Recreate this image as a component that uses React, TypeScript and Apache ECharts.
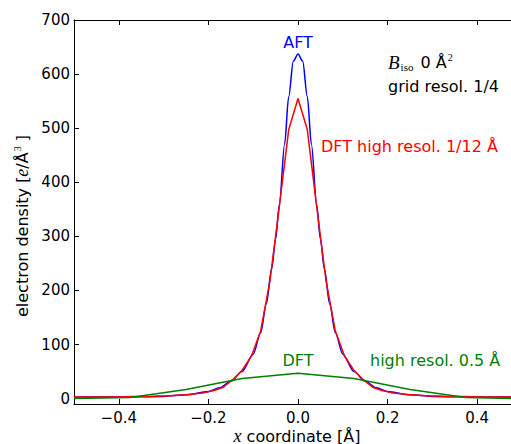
import React, { useEffect, useRef } from "react";
import * as echarts from "echarts";

// AFT (analytic) profile
const aftX = [-0.5, -0.4, -0.3, -0.25, -0.2, -0.175, -0.15, -0.125, -0.1, -0.0833, -0.0708, -0.0588, -0.05, -0.0417, -0.03, -0.0208, -0.0104, 0,
  0.0104, 0.0208, 0.03, 0.0417, 0.05, 0.0588, 0.0708, 0.0833, 0.1, 0.125, 0.15, 0.175, 0.2, 0.25, 0.3, 0.4, 0.5];
const aftY = [3, 3, 4, 7, 13, 20, 32, 50, 82, 122, 175, 240, 295, 358, 470, 558, 624, 637,
  624, 558, 470, 358, 295, 240, 175, 122, 82, 50, 32, 20, 13, 7, 4, 3, 3];

// DFT high resolution 1/12 Å, grid 1/48 Å
const dftHiX = [-0.5, -0.4792, -0.4583, -0.4375, -0.4167, -0.3958, -0.375, -0.3542, -0.3333, -0.3125, -0.2917, -0.2708, -0.25,
  -0.2292, -0.2083, -0.1875, -0.1667, -0.1458, -0.125, -0.1042, -0.0833, -0.0625, -0.0417, -0.0208, 0,
  0.0208, 0.0417, 0.0625, 0.0833, 0.1042, 0.125, 0.1458, 0.1667, 0.1875, 0.2083, 0.2292,
  0.25, 0.2708, 0.2917, 0.3125, 0.3333, 0.3542, 0.375, 0.3958, 0.4167, 0.4375, 0.4583, 0.4792, 0.5];
const dftHiY = [3, 3, 3, 3, 3, 3, 4, 4, 4, 5, 5, 6, 7,
  9, 11, 15, 21, 35, 52, 78, 125, 218, 355, 497, 555,
  497, 355, 218, 125, 78, 52, 35, 21, 15, 11, 9,
  7, 6, 5, 5, 4, 4, 4, 3, 3, 3, 3, 3, 3];

// DFT resolution 0.5 Å, grid 0.125 Å
const dftLoX = [-0.5, -0.375, -0.25, -0.125, 0, 0.125, 0.25, 0.375, 0.5];
const dftLoY = [0, 2, 17, 37, 47, 37, 17, 2, 0];

const xTicks = [-0.4, -0.2, 0, 0.2, 0.4];
const yTicks = [0, 100, 200, 300, 400, 500, 600, 700];

const FONT = "DejaVu Sans";
const SERIF = "Liberation Serif";

function pairs(xs: number[], ys: number[]) {
  return xs.map((x, i) => [x, ys[i]]);
}

function fmtX(v: number) {
  const a = Math.abs(v).toFixed(1);
  return v < -1e-9 ? "\u2212" + a : a;
}

export default function App() {
  const ref = useRef<HTMLDivElement>(null);
  useEffect(() => {
    if (!ref.current) return;
    const chart = echarts.init(ref.current, null, { renderer: "svg" });
    const axisLine = { show: true, onZero: false, lineStyle: { color: "#000", width: 1 } };
    const tick = (vals: number[]) => ({ show: true, inside: true, length: 5, customValues: vals, lineStyle: { color: "#000", width: 1 } });
    chart.setOption({
      animation: false,
      backgroundColor: "#fff",
      grid: { left: 74, top: 20, bottom: 40, right: -11, containLabel: false, outerBoundsMode: "none" },
      xAxis: [
        {
          type: "value", position: "bottom", min: -0.5, max: 0.5,
          axisLine, axisTick: tick(xTicks), splitLine: { show: false },
          axisLabel: { show: true, customValues: xTicks, formatter: fmtX, margin: 6, color: "#000", fontFamily: FONT, fontSize: 15 },
        },
        {
          type: "value", position: "top", min: -0.5, max: 0.5,
          axisLine, axisTick: tick(xTicks), splitLine: { show: false }, axisLabel: { show: false },
        },
      ],
      yAxis: [
        {
          type: "value", position: "left", min: -10, max: 700,
          axisLine, axisTick: tick(yTicks), splitLine: { show: false },
          axisLabel: { show: true, customValues: yTicks, margin: 4, color: "#000", fontFamily: FONT, fontSize: 15 },
        },
        {
          type: "value", position: "right", min: -10, max: 700,
          axisLine, axisTick: tick(yTicks), splitLine: { show: false }, axisLabel: { show: false },
        },
      ],
      series: [
        {
          type: "line", name: "AFT", data: pairs(aftX, aftY), xAxisIndex: 0, yAxisIndex: 0,
          showSymbol: false, smooth: 0.3, smoothMonotone: "x",
          lineStyle: { color: "#0000ff", width: 1.5 }, itemStyle: { color: "#0000ff" },
        },
        {
          type: "line", name: "DFT 1/12", data: pairs(dftHiX, dftHiY), xAxisIndex: 0, yAxisIndex: 0,
          showSymbol: false, lineStyle: { color: "#ff0000", width: 1.5 }, itemStyle: { color: "#ff0000" },
        },
        {
          type: "line", name: "DFT 0.5", data: pairs(dftLoX, dftLoY), xAxisIndex: 0, yAxisIndex: 0,
          showSymbol: false, lineStyle: { color: "#008000", width: 1.5 }, itemStyle: { color: "#008000" },
        },
      ],
      graphic: [
        { type: "text", x: 298, y: 42, style: { text: "AFT", fill: "#0000ff", fontFamily: FONT, fontSize: 16, align: "center", verticalAlign: "middle" } },
        {
          type: "text", x: 388, y: 62,
          style: {
            text: "{b|B}{sub|iso}{n| 0 Å}{sup|2}", align: "left", verticalAlign: "middle",
            rich: {
              b: { fontFamily: SERIF, fontStyle: "italic", fontSize: 19, fill: "#000", lineHeight: 20 },
              sub: { fontFamily: SERIF, fontSize: 11, fill: "#000", lineHeight: 9, verticalAlign: "bottom", padding: [0, 2, 0, 1] },
              n: { fontFamily: FONT, fontSize: 16, fill: "#000", lineHeight: 20 },
              sup: { fontFamily: SERIF, fontSize: 10, fill: "#000", lineHeight: 10, verticalAlign: "top", padding: [0, 0, 0, 1] },
            },
          },
        },
        { type: "text", x: 388, y: 86, style: { text: "grid resol. 1/4", fill: "#000", fontFamily: FONT, fontSize: 16, align: "left", verticalAlign: "middle" } },
        { type: "text", x: 321, y: 146, style: { text: "DFT high resol. 1/12 Å", fill: "#ff0000", fontFamily: FONT, fontSize: 16, align: "left", verticalAlign: "middle" } },
        { type: "text", x: 298, y: 360, style: { text: "DFT", fill: "#008000", fontFamily: FONT, fontSize: 16, align: "center", verticalAlign: "middle" } },
        { type: "text", x: 370, y: 360, style: { text: "high resol. 0.5 Å", fill: "#008000", fontFamily: FONT, fontSize: 16, align: "left", verticalAlign: "middle" } },
        {
          type: "text", x: 22, y: 226, rotation: Math.PI / 2,
          style: {
            text: "{n|electron density [}{i|e}{n|/Å}{s|3}{n| ]}", align: "center", verticalAlign: "middle",
            rich: {
              n: { fontFamily: FONT, fontSize: 16, fill: "#000", lineHeight: 20 },
              i: { fontFamily: SERIF, fontStyle: "italic", fontSize: 18, fill: "#000", lineHeight: 20 },
              s: { fontFamily: SERIF, fontSize: 10, fill: "#000", lineHeight: 10, verticalAlign: "top", padding: [0, 0, 0, 1] },
            },
          },
        },
        {
          type: "text", x: 297, y: 436,
          style: {
            text: "{i|x}{n| coordinate [Å]}", align: "center", verticalAlign: "middle",
            rich: {
              n: { fontFamily: FONT, fontSize: 16, fill: "#000", lineHeight: 20 },
              i: { fontFamily: SERIF, fontStyle: "italic", fontSize: 18, fill: "#000", lineHeight: 20 },
            },
          },
        },
      ],
    });
    return () => chart.dispose();
  }, []);
  return <div ref={ref} style={{ position: "absolute", left: 0, top: 0, width: 511, height: 444 }} />;
}
